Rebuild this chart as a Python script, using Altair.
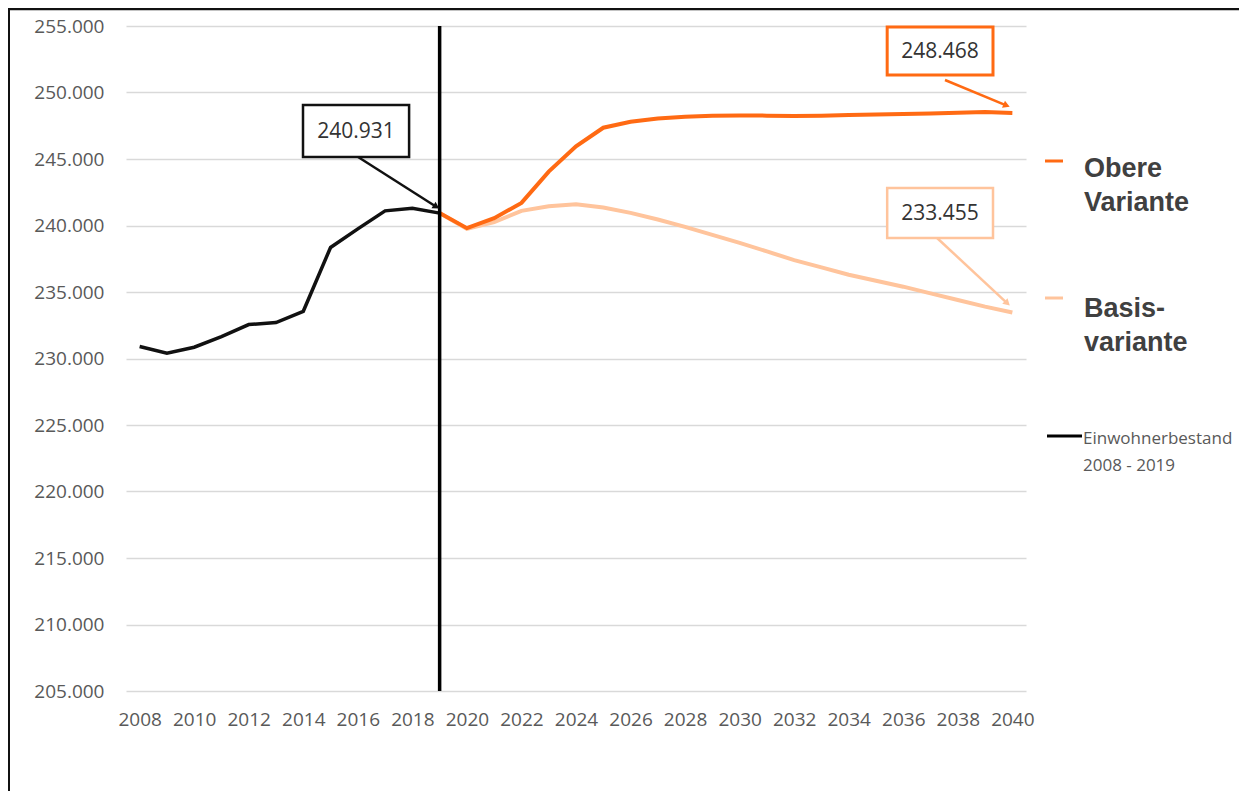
import math
import altair as alt
import pandas as pd

# ---------------- data ----------------
years_hist = list(range(2008, 2020))
einwohner = [230900, 230400, 230850, 231650, 232550, 232700, 233550,
             238350, 239750, 241100, 241300, 240931]

years_proj = list(range(2019, 2041))
obere = [240931, 239800, 240550, 241700, 244050, 245950, 247350, 247800,
         248050, 248180, 248250, 248280, 248260, 248230, 248260, 248300,
         248340, 248380, 248430, 248480, 248530, 248468]
basis = [240931, 239750, 240250, 241100, 241450, 241600, 241350, 240950,
         240450, 239900, 239300, 238700, 238050, 237400, 236850, 236300,
         235850, 235400, 234900, 234400, 233900, 233455]

x_ticks = list(range(2008, 2041, 2))
y_ticks = list(range(205000, 255001, 5000))

# annotation callouts (data units)
ann_text = ["240.931", "248.468", "233.455"]
ann_box_x = [(2013.99, 2017.88), (2035.41, 2039.29), (2035.41, 2039.29)]
ann_box_y = [(245150, 249060), (251320, 254920), (239060, 242820)]
ann_arrow_from = [(2016.01, 245150), (2037.53, 250940), (2037.24, 239060)]
ann_arrow_to = [(2019.0, 241250), (2039.92, 248910), (2039.92, 233950)]

legend_labels = [["Obere", "Variante"], ["Basis-", "variante"],
                 ["Einwohnerbestand", "2008 - 2019"]]

# ---------------- styles ----------------
C_HIST = "#111111"
C_OBERE = "#FF6A13"
C_BASIS = "#FFC49C"
ann_colors = [C_HIST, C_OBERE, C_BASIS]
ann_widths = [2.5, 3, 2.5]

W, H = 900, 665
X_DOMAIN = [2007.5, 2040.5]
Y_DOMAIN = [205000, 255000]
px_x = W / (X_DOMAIN[1] - X_DOMAIN[0])
px_y = H / (Y_DOMAIN[1] - Y_DOMAIN[0])

x_scale = alt.Scale(domain=X_DOMAIN, nice=False, zero=False)
y_scale = alt.Scale(domain=Y_DOMAIN, nice=False, zero=False)

x_axis = alt.Axis(values=x_ticks, format="d", labelFont="Open Sans",
                  labelFontSize=19, labelColor="#595959", grid=False,
                  ticks=False, domain=False, labelPadding=19, title=None,
                  labelFlush=False)
y_axis = alt.Axis(values=y_ticks,
                  labelExpr="replace(format(datum.value, ','), ',', '.')",
                  labelFont="Open Sans", labelFontSize=19,
                  labelColor="#595959", grid=True, gridColor="#D9D9D9",
                  gridWidth=1.3, ticks=False, domain=False, labelPadding=22,
                  title=None)


def X(field):
    return alt.X(field, type="quantitative", scale=x_scale, axis=x_axis, title=None)


def Y(field):
    return alt.Y(field, type="quantitative", scale=y_scale, axis=y_axis, title=None)


hist_df = pd.DataFrame({"year": years_hist, "value": einwohner})
proj_df = pd.DataFrame({"year": years_proj, "obere": obere, "basis": basis})

hist_line = alt.Chart(hist_df).mark_line(color=C_HIST, strokeWidth=3.5).encode(
    x=X("year"), y=Y("value"))
basis_line = alt.Chart(proj_df).mark_line(color=C_BASIS, strokeWidth=4).encode(
    x=X("year"), y=Y("basis"))
obere_line = alt.Chart(proj_df).mark_line(color=C_OBERE, strokeWidth=4).encode(
    x=X("year"), y=Y("obere"))

vline_df = pd.DataFrame({"year": [2019], "y0": [Y_DOMAIN[0]], "y1": [Y_DOMAIN[1]]})
vline = alt.Chart(vline_df).mark_rule(color="#000000", strokeWidth=3.5).encode(
    x=X("year"), y=Y("y0"), y2="y1")

# annotation tables
rows = []
heads = []
for i in range(3):
    (bx0, bx1), (by0, by1) = ann_box_x[i], ann_box_y[i]
    (ax0, ay0), (ax1, ay1) = ann_arrow_from[i], ann_arrow_to[i]
    dx = (ax1 - ax0) * px_x
    dy = -(ay1 - ay0) * px_y
    ang = math.degrees(math.atan2(dx, -dy)) % 360
    L = math.hypot(dx, dy)
    back = 5.0
    hx = ax1 - (dx / L) * back / px_x
    hy = ay1 + (dy / L) * back / px_y
    rows.append({"x0": bx0, "x1": bx1, "y0": by0, "y1": by1,
                 "cx": (bx0 + bx1) / 2, "cy": (by0 + by1) / 2,
                 "ax0": ax0, "ay0": ay0, "ax1": hx, "ay1": hy,
                 "txt": ann_text[i], "col": ann_colors[i], "sw": ann_widths[i]})
    heads.append({"hx": hx, "hy": hy, "ang": ang, "col": ann_colors[i]})
ann_df = pd.DataFrame(rows)
head_df = pd.DataFrame(heads)

arrows = alt.Chart(ann_df).mark_rule(strokeWidth=2.5).encode(
    x=X("ax0"), y=Y("ay0"), x2="ax1", y2="ay1",
    color=alt.Color("col:N", scale=None))
arrow_heads = alt.Chart(head_df).mark_point(shape="triangle", filled=True,
                                            size=60, opacity=1).encode(
    x=X("hx"), y=Y("hy"), angle=alt.Angle("ang:Q", scale=None),
    color=alt.Color("col:N", scale=None))
boxes = alt.Chart(ann_df).mark_rect(fill="white").encode(
    x=X("x0"), x2="x1", y=Y("y0"), y2="y1",
    stroke=alt.Stroke("col:N", scale=None),
    strokeWidth=alt.StrokeWidth("sw:Q", scale=None))
box_text = alt.Chart(ann_df).mark_text(font="Open Sans", fontSize=21,
                                       color="#333333", baseline="middle",
                                       dy=1).encode(
    x=X("cx"), y=Y("cy"), text="txt:N")

# ---------------- legend (drawn beside the plot) ----------------
one = pd.DataFrame({"k": [0]})
leg_obere_mark = alt.Chart(one).mark_rule(color=C_OBERE, strokeWidth=3).encode(
    x=alt.value(919), x2=alt.value(937), y=alt.value(135))
leg_basis_mark = alt.Chart(one).mark_rule(color=C_BASIS, strokeWidth=3).encode(
    x=alt.value(919), x2=alt.value(937), y=alt.value(272))
leg_hist_mark = alt.Chart(one).mark_rule(color="#000000", strokeWidth=3).encode(
    x=alt.value(921), x2=alt.value(956), y=alt.value(410))

leg_obere_text = alt.Chart(one).mark_text(
    text=legend_labels[0], font="Liberation Sans", fontWeight="bold",
    fontSize=27, color="#404040", align="left", baseline="alphabetic",
    lineHeight=34).encode(x=alt.value(958), y=alt.value(151))
leg_basis_text = alt.Chart(one).mark_text(
    text=legend_labels[1], font="Liberation Sans", fontWeight="bold",
    fontSize=27, color="#404040", align="left", baseline="alphabetic",
    lineHeight=34).encode(x=alt.value(958), y=alt.value(291))
leg_hist_text = alt.Chart(one).mark_text(
    text=legend_labels[2], font="Open Sans", fontSize=17, color="#595959",
    align="left", baseline="alphabetic", lineHeight=27).encode(
    x=alt.value(957), y=alt.value(418))

# outer frame (top and left edges)
frame_top = alt.Chart(one).mark_rule(color="#111111", strokeWidth=2.5).encode(
    x=alt.value(-118), x2=alt.value(1120), y=alt.value(-17))
frame_left = alt.Chart(one).mark_rule(color="#111111", strokeWidth=2).encode(
    x=alt.value(-117), y=alt.value(-18), y2=alt.value(770))

chart = alt.layer(
    basis_line, obere_line, hist_line, vline, arrows, arrow_heads, boxes,
    box_text, leg_obere_mark, leg_basis_mark, leg_hist_mark,
    leg_obere_text, leg_basis_text, leg_hist_text, frame_top, frame_left
).properties(
    width=W, height=H,
    autosize=alt.AutoSizeParams(type="none"),
    padding={"left": 118, "top": 18, "right": 213, "bottom": 100},
    background="white",
).configure_view(stroke=None)

chart.save("out.html", embed_options={"renderer": "svg", "actions": False})
